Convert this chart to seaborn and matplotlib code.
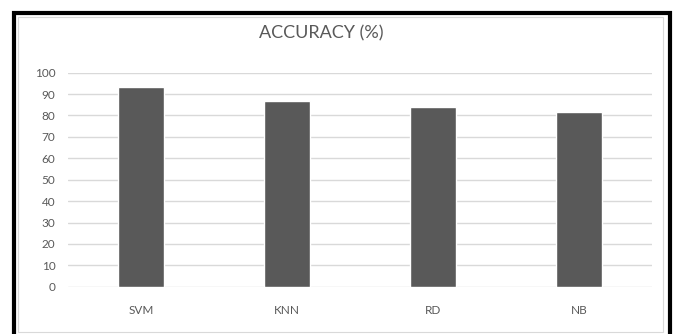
import matplotlib
matplotlib.use("Agg")
import matplotlib.pyplot as plt
from matplotlib.patches import Rectangle
import seaborn as sns
import pandas as pd

# data
models = ['SVM', 'KNN', 'RD', 'NB']
accuracy = [93.4, 86.8, 83.8, 81.5]
y_ticks = [0, 10, 20, 30, 40, 50, 60, 70, 80, 90, 100]

W, H = 676, 334
BAR = '#595959'
TXT = '#595959'
GRID = '#d9d9d9'

sns.set_style("white")
plt.rcParams['font.family'] = ['Lato', 'DejaVu Sans']

fig = plt.figure(figsize=(W / 100, H / 100), dpi=100)
ax = fig.add_axes([68 / W, 1 - 286.7 / H, (652 - 68) / W, (286.7 - 72.7) / H])

df = pd.DataFrame({'model': models, 'acc': accuracy})
sns.barplot(data=df, x='model', y='acc', color=BAR, saturation=1,
            width=0.315, errorbar=None, ax=ax, zorder=3)

ax.set_ylim(0, 100)
ax.set_xlim(-0.5, len(models) - 0.5)
ax.set_yticks(y_ticks)
ax.yaxis.grid(True, color=GRID, linewidth=1)
ax.set_axisbelow(True)
for s in ax.spines.values():
    s.set_visible(False)
ax.set_xlabel('')
ax.set_ylabel('')
ax.tick_params(axis='y', length=0, pad=9, labelsize=8.5, labelcolor=TXT)
ax.tick_params(axis='x', length=0, pad=13, labelsize=8.5, labelcolor=TXT)

fig.text(321 / W, 1 - 33 / H, 'ACCURACY (%)', ha='center', va='center',
         fontsize=13, color=TXT)

# chart frame: faint inner border + thick black outer border
fig.add_artist(Rectangle((18 / W, 1 - 332 / H), (663 - 18) / W, (332 - 17) / H,
                         transform=fig.transFigure, fill=False,
                         edgecolor=GRID, linewidth=0.8))
fig.add_artist(Rectangle((14 / W, -0.05), (670 - 14) / W, 1.05 - 12.5 / H,
                         transform=fig.transFigure, fill=False,
                         edgecolor='black', linewidth=3, clip_on=False))

fig.savefig('out.png', dpi=100)
